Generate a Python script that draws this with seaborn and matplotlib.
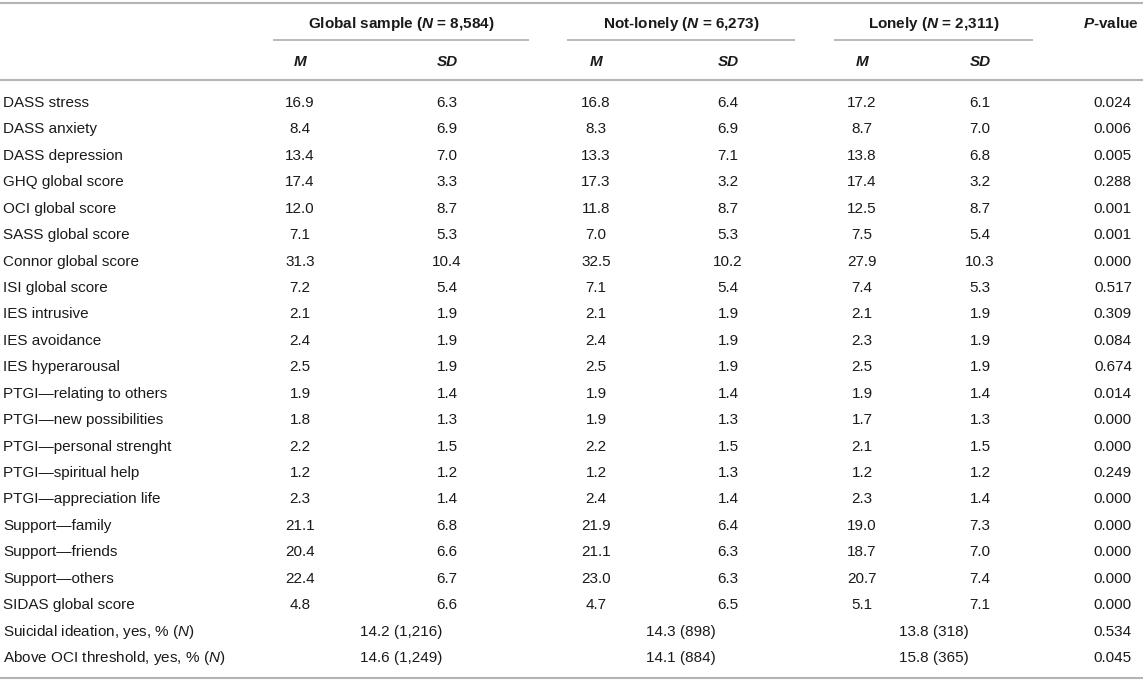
import numpy as np
import pandas as pd
import matplotlib
matplotlib.use("Agg")
import matplotlib.pyplot as plt
import seaborn as sns

# ---------------- data ----------------
variables = [
    "DASS stress", "DASS anxiety", "DASS depression", "GHQ global score",
    "OCI global score", "SASS global score", "Connor global score",
    "ISI global score", "IES intrusive", "IES avoidance", "IES hyperarousal",
    "PTGI\u2014relating to others", "PTGI\u2014new possibilities",
    "PTGI\u2014personal strenght", "PTGI\u2014spiritual help",
    "PTGI\u2014appreciation life", "Support\u2014family", "Support\u2014friends",
    "Support\u2014others", "SIDAS global score",
]
global_m = [16.9, 8.4, 13.4, 17.4, 12.0, 7.1, 31.3, 7.2, 2.1, 2.4, 2.5,
            1.9, 1.8, 2.2, 1.2, 2.3, 21.1, 20.4, 22.4, 4.8]
global_sd = [6.3, 6.9, 7.0, 3.3, 8.7, 5.3, 10.4, 5.4, 1.9, 1.9, 1.9,
             1.4, 1.3, 1.5, 1.2, 1.4, 6.8, 6.6, 6.7, 6.6]
notlonely_m = [16.8, 8.3, 13.3, 17.3, 11.8, 7.0, 32.5, 7.1, 2.1, 2.4, 2.5,
               1.9, 1.9, 2.2, 1.2, 2.4, 21.9, 21.1, 23.0, 4.7]
notlonely_sd = [6.4, 6.9, 7.1, 3.2, 8.7, 5.3, 10.2, 5.4, 1.9, 1.9, 1.9,
                1.4, 1.3, 1.5, 1.3, 1.4, 6.4, 6.3, 6.3, 6.5]
lonely_m = [17.2, 8.7, 13.8, 17.4, 12.5, 7.5, 27.9, 7.4, 2.1, 2.3, 2.5,
            1.9, 1.7, 2.1, 1.2, 2.3, 19.0, 18.7, 20.7, 5.1]
lonely_sd = [6.1, 7.0, 6.8, 3.2, 8.7, 5.4, 10.3, 5.3, 1.9, 1.9, 1.9,
             1.4, 1.3, 1.5, 1.2, 1.4, 7.3, 7.0, 7.4, 7.1]
p_values = [0.024, 0.006, 0.005, 0.288, 0.001, 0.001, 0.000, 0.517, 0.309,
            0.084, 0.674, 0.014, 0.000, 0.000, 0.249, 0.000, 0.000, 0.000,
            0.000, 0.000]

cat_variables = ["Suicidal ideation, yes, % ($\\mathit{N}$)",
                 "Above OCI threshold, yes, % ($\\mathit{N}$)"]
global_pct = [14.2, 14.6]
global_n = [1216, 1249]
notlonely_pct = [14.3, 14.1]
notlonely_n = [898, 884]
lonely_pct = [13.8, 15.8]
lonely_n = [318, 365]
cat_p_values = [0.534, 0.045]

group_names = ["Global sample", "Not-lonely", "Lonely"]
group_sizes = [8584, 6273, 2311]
sub_headers = ["M", "SD"]

# ---------------- style ----------------
sns.set_theme(style="white")
plt.rcParams["font.family"] = ["Liberation Sans", "DejaVu Sans"]
plt.rcParams["mathtext.fontset"] = "custom"
plt.rcParams["mathtext.rm"] = "Liberation Sans"
plt.rcParams["mathtext.it"] = "Liberation Sans:italic"
plt.rcParams["mathtext.bf"] = "Liberation Sans:bold"
plt.rcParams["mathtext.bfit"] = "Liberation Sans:italic:bold"

W, H = 1143, 682
fig = plt.figure(figsize=(W / 100, H / 100), dpi=100)
ax = fig.add_axes([0, 0, 1, 1])
ax.set_xlim(0, W)
ax.set_ylim(H, 0)
ax.axis("off")

TXT = "#1a1a1a"
RULE = "#b4b4b4"
FS = 11

# layout (pixels)
x_label = 3
m_x = [300, 596, 862]
sd_x = [447, 728, 980]
grp_center = [401, 681, 934]
grp_line = [(273, 529), (567, 795), (834, 1033)]
p_right = 1132
p_head_right = 1139
y_head1, y_uline, y_head2, y_rule = 24, 40, 62, 80
y_first, dy = 103, 26.43
y_top, y_bottom = 3, 678

# rules
for yy in (y_top, y_rule, y_bottom):
    ax.plot([0, W], [yy, yy], color=RULE, lw=1.5, solid_capstyle="butt")
for (a, b) in grp_line:
    ax.plot([a, b], [y_uline, y_uline], color=RULE, lw=1.3, solid_capstyle="butt")

# headers
for name, n, cx in zip(group_names, group_sizes, grp_center):
    ax.text(cx, y_head1, f"{name} ($\\mathbfit{{N}}$ = {n:,})", ha="center",
            va="center", fontsize=FS, fontweight="bold", color=TXT)
for mx, sx in zip(m_x, sd_x):
    ax.text(mx, y_head2, sub_headers[0], ha="center", va="center", fontsize=FS,
            fontweight="bold", fontstyle="italic", color=TXT)
    ax.text(sx, y_head2, sub_headers[1], ha="center", va="center", fontsize=FS,
            fontweight="bold", fontstyle="italic", color=TXT)
ax.text(p_head_right, y_head1, "$\\mathbfit{P}$-value", ha="right", va="center",
        fontsize=FS, fontweight="bold", color=TXT)

# body: continuous variables
df = pd.DataFrame({
    "variable": variables,
    "g_m": global_m, "g_sd": global_sd,
    "n_m": notlonely_m, "n_sd": notlonely_sd,
    "l_m": lonely_m, "l_sd": lonely_sd,
    "p": p_values,
})
for i, row in df.iterrows():
    y = y_first + i * dy
    ax.text(x_label, y, row["variable"], ha="left", va="center", fontsize=FS, color=TXT)
    for (mk, sk), mx, sx in zip([("g_m", "g_sd"), ("n_m", "n_sd"), ("l_m", "l_sd")], m_x, sd_x):
        ax.text(mx, y, f"{row[mk]:.1f}", ha="center", va="center", fontsize=FS, color=TXT)
        ax.text(sx, y, f"{row[sk]:.1f}", ha="center", va="center", fontsize=FS, color=TXT)
    ax.text(p_right, y, f"{row['p']:.3f}", ha="right", va="center", fontsize=FS, color=TXT)

# body: categorical variables
n_cont = len(variables)
for j, lab in enumerate(cat_variables):
    y = y_first + (n_cont + j) * dy
    ax.text(x_label, y, lab, ha="left", va="center", fontsize=FS, color=TXT)
    for pct, nn, cx in zip([global_pct[j], notlonely_pct[j], lonely_pct[j]],
                           [global_n[j], notlonely_n[j], lonely_n[j]], grp_center):
        ax.text(cx, y, f"{pct:.1f} ({nn:,})", ha="center", va="center", fontsize=FS, color=TXT)
    ax.text(p_right, y, f"{cat_p_values[j]:.3f}", ha="right", va="center", fontsize=FS, color=TXT)

fig.savefig("out.png", dpi=100, facecolor="white")
